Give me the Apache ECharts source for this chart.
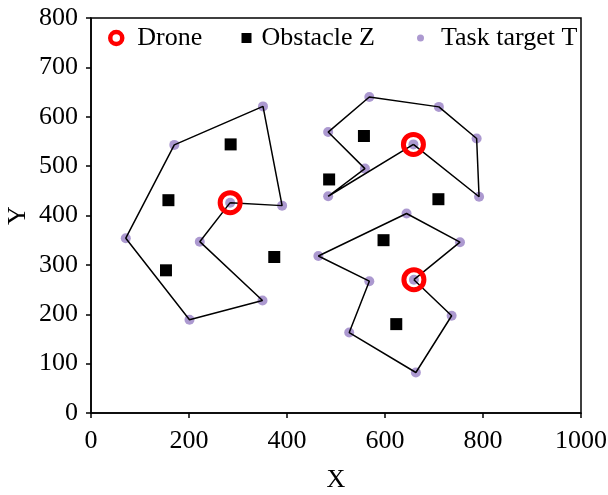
<!DOCTYPE html>
<html>
<head>
<meta charset="utf-8">
<script src="https://cdn.jsdelivr.net/npm/echarts@6/dist/echarts.min.js"></script>
<style>
  html, body { margin: 0; padding: 0; background: #fff; }
  #chart { width: 608px; height: 495px; }
</style>
</head>
<body>
<div id="chart"></div>
<script>
// Drone start positions (each sits on one of its own task targets)
const drones = [[284, 426], [658, 544], [659, 270]];

// Obstacles Z
const obstacles = [
  [285, 544], [158, 431], [153, 289], [374, 316],
  [557, 561], [486, 473], [709, 433], [597, 350], [623, 180]
];

// Task targets T, listed in visiting order for each drone (first = drone position)
const route1 = [[284, 426], [390, 420], [351, 621], [170, 543], [71, 354], [201, 189], [350, 228], [222, 347]];
const route2 = [[658, 544], [792, 438], [787, 556], [710, 620], [568, 640], [484, 569], [559, 495], [484, 439]];
const route3 = [[659, 270], [753, 346], [644, 404], [464, 318], [568, 267], [527, 163], [663, 82], [736, 197]];

// Axis ranges
const xRange = [0, 1000, 200];
const yRange = [0, 800, 100];

const FONT = 'Liberation Serif';
const targets = route1.concat(route2, route3);
const closed = r => r.concat([r[0]]);

const chart = echarts.init(document.getElementById('chart'), null, { renderer: 'canvas' });

const axisCommon = {
  type: 'value',
  nameLocation: 'middle',
  nameMoveOverlap: false,
  nameTextStyle: { fontFamily: FONT, fontSize: 26, color: '#000' },
  axisLine: { show: true, onZero: false, lineStyle: { color: '#000', width: 1.5 } },
  axisTick: { show: true, inside: false, length: 5, lineStyle: { color: '#000', width: 1.5 } },
  axisLabel: { fontFamily: FONT, fontSize: 26, color: '#000', margin: 13, formatter: v => String(v) },
  splitLine: { show: false }
};

const routeSeries = [route1, route2, route3].map(r => ({
  type: 'line',
  data: closed(r),
  symbol: 'none',
  silent: true,
  z: 3,
  lineStyle: { color: '#000', width: 1.5 },
  animation: false
}));

const legendText = pad => ({ fontFamily: FONT, fontSize: 26, color: '#000', padding: [0, 0, 0, pad] });

chart.setOption({
  animation: false,
  backgroundColor: '#fff',
  grid: {
    left: 91, right: 27, top: 18, bottom: 82,
    containLabel: false, outerBoundsMode: 'none',
    show: true, borderColor: '#000', borderWidth: 1.5, backgroundColor: 'transparent'
  },
  legend: [
    {
      data: [{ name: 'Drone', itemStyle: { color: 'transparent', borderColor: '#ff0000', borderWidth: 4.5, opacity: 1 } }],
      left: 103, top: 20, itemWidth: 12, itemHeight: 12,
      textStyle: legendText(10),
      selectedMode: false
    },
    {
      data: [{ name: 'Obstacle Z', icon: 'rect', itemStyle: { opacity: 1 } }],
      left: 236.5, top: 20, itemWidth: 10, itemHeight: 10,
      textStyle: legendText(5),
      selectedMode: false
    },
    {
      data: [{ name: 'Task target T', icon: 'circle' }],
      left: 412, top: 20, itemWidth: 7, itemHeight: 7,
      textStyle: legendText(12),
      selectedMode: false
    }
  ],
  xAxis: Object.assign({}, axisCommon, {
    name: 'X', nameGap: 54,
    axisLabel: Object.assign({}, axisCommon.axisLabel, { margin: 15 }),
    min: xRange[0], max: xRange[1], interval: xRange[2]
  }),
  yAxis: Object.assign({}, axisCommon, {
    name: 'Y', nameGap: 60,
    min: yRange[0], max: yRange[1], interval: yRange[2]
  }),
  series: [
    {
      name: 'Task target T',
      type: 'scatter',
      data: targets,
      symbol: 'circle',
      symbolSize: 10,
      z: 2,
      itemStyle: { color: '#a38ecb', opacity: 0.9 }
    },
    {
      name: 'Obstacle Z',
      type: 'scatter',
      data: obstacles,
      symbol: 'rect',
      symbolSize: 12,
      z: 2,
      itemStyle: { color: '#000', opacity: 1 }
    },
    ...routeSeries,
    {
      name: 'Drone',
      type: 'scatter',
      data: drones,
      symbol: 'circle',
      symbolSize: 20,
      z: 4,
      itemStyle: { color: 'transparent', borderColor: '#ff0000', borderWidth: 5, opacity: 1 }
    }
  ]
});
</script>
</body>
</html>
